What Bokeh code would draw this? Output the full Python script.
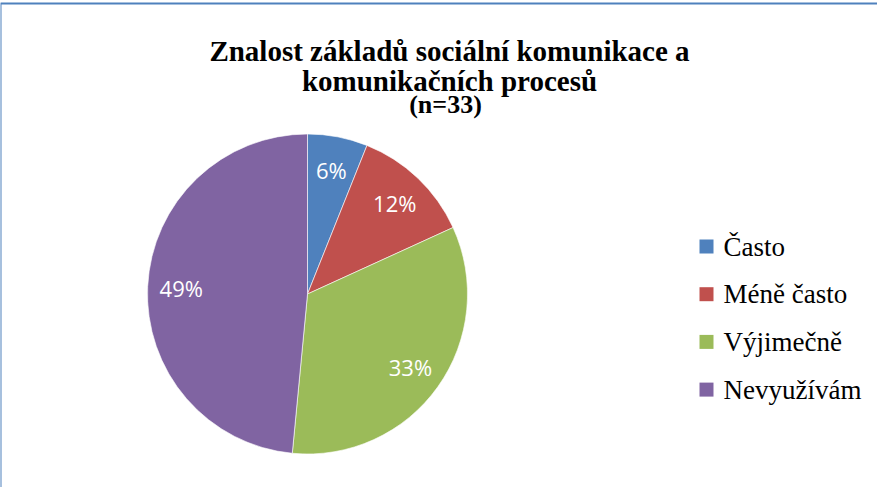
import math
from bokeh.plotting import figure
from bokeh.models import Range1d, ColumnDataSource
from bokeh.core.properties import value
from bokeh.embed import file_html
from bokeh.resources import INLINE

# ---- data ----
categories = ["Často", "Méně často", "Výjimečně", "Nevyužívám"]
counts = [2, 4, 11, 16]
pct_labels = ["6%", "12%", "33%", "49%"]
colors = ["#4F81BD", "#C0504D", "#9BBB59", "#8064A2"]
title_lines = ["Znalost základů sociální komunikace a", "komunikačních procesů"]
subtitle = "(n=33)"

SERIF = "serif"

W, H = 877, 487
p = figure(width=W, height=H, output_backend="svg", toolbar_location=None,
           x_range=Range1d(0, W), y_range=Range1d(0, H),
           x_axis_location=None, y_axis_location=None, min_border=0)
p.grid.visible = False
p.outline_line_color = None

# page -> data helpers (canvas starts at page (8, 8))
def dx(px):
    return px - 8
def dy(py):
    return (H + 8) - py

# title
p.text(x=[dx(457), dx(457)], y=[dy(58), dy(88.5)], text=title_lines, text_font=value(SERIF),
       text_font_style="bold", text_font_size="29px", text_align="center",
       text_baseline="alphabetic", text_color="black")
p.text(x=[dx(453)], y=[dy(112)], text=[subtitle], text_font=value(SERIF),
       text_font_style="bold", text_font_size="26px", text_align="center",
       text_baseline="alphabetic", text_color="black")

# chart border (top and left visible)
p.line([dx(8), dx(8), W], [0, dy(11), dy(11)], line_color="#4F81BD", line_width=2)

# pie
cx, cy, R = dx(315), dy(301.5), 160
total = sum(counts)
cum = [0]
for c in counts:
    cum.append(cum[-1] + c)
starts = [math.pi / 2 - 2 * math.pi * cum[i + 1] / total for i in range(len(counts))]
ends = [math.pi / 2 - 2 * math.pi * cum[i] / total for i in range(len(counts))]
mids = [(s + e) / 2 for s, e in zip(starts, ends)]

src = ColumnDataSource(dict(cat=categories, start=starts, end=ends, color=colors,
                            x=[cx] * 4, y=[cy] * 4))
p.wedge(x="x", y="y", radius=R, start_angle="start", end_angle="end",
        fill_color="color", line_color="white", line_width=0.6, source=src)

lr = 0.79 * R
lab_src = ColumnDataSource(dict(x=[cx + lr * math.cos(m) for m in mids],
                                y=[cy + lr * math.sin(m) for m in mids],
                                t=pct_labels))
p.text(x="x", y="y", text="t", source=lab_src, text_color="white",
       text_font=value("Open Sans"), text_font_size="22px",
       text_align="center", text_baseline="middle")

# legend (drawn manually)
row_y = [dy(254 + 47.7 * i) for i in range(len(categories))]
leg_src = ColumnDataSource(dict(x=[dx(714)] * 4, tx=[dx(731)] * 4, y=row_y,
                                color=colors, label=categories))
p.rect(x="x", y="y", width=14, height=14, fill_color="color", line_color=None, source=leg_src)
p.text(x="tx", y="y", text="label", source=leg_src, text_font=value(SERIF),
       text_font_size="27px", text_color="black", text_align="left", text_baseline="middle")

open("out.html", "w").write(file_html(p, INLINE))
